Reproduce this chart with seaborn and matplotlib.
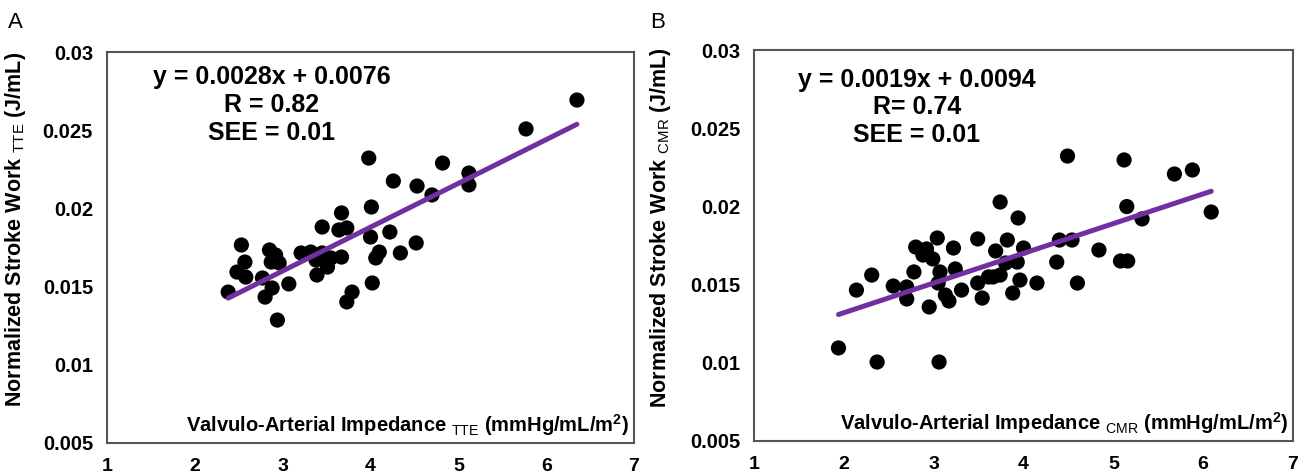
import matplotlib
matplotlib.use("Agg")
import matplotlib.pyplot as plt
import seaborn as sns
import numpy as np
import pandas as pd

# panel A (TTE)
tte_x = [6.35, 5.77, 3.98, 4.82, 5.12, 5.12, 4.26, 4.53, 4.70, 4.01,
         3.67, 3.45, 3.64, 3.73, 4.22, 4.00, 4.52, 4.10, 4.34, 4.06,
         4.02, 3.79, 3.73, 3.67, 3.55, 3.51, 3.39, 3.38, 3.32, 3.21,
         3.45, 3.07, 2.96, 2.85, 2.92, 2.87, 2.77, 2.88, 2.80, 2.94,
         2.53, 2.57, 2.48, 2.58, 2.38]
tte_y = [0.02693, 0.02508, 0.02322, 0.02290, 0.02226, 0.02150, 0.02175, 0.02143, 0.02086, 0.02009,
         0.01971, 0.01881, 0.01862, 0.01875, 0.01849, 0.01817, 0.01779, 0.01721, 0.01715, 0.01683,
         0.01523, 0.01465, 0.01402, 0.01689, 0.01683, 0.01625, 0.01574, 0.01670, 0.01721, 0.01715,
         0.01715, 0.01517, 0.01651, 0.01734, 0.01702, 0.01657, 0.01555, 0.01491, 0.01433, 0.01286,
         0.01766, 0.01657, 0.01593, 0.01561, 0.01465]
tte_fit = (0.0028, 0.0076)
tte_stats = "y = 0.0028x + 0.0076\nR = 0.82\nSEE = 0.01"

# panel B (CMR)
cmr_x = [1.94, 2.37, 3.06, 2.14, 2.31, 2.55, 2.70, 2.70, 2.78, 2.80,
         2.92, 2.88, 2.99, 3.04, 3.07, 3.05, 2.95, 3.13, 3.17, 3.22,
         3.24, 3.31, 3.49, 3.49, 3.54, 3.61, 3.66, 3.69, 3.74, 3.74,
         3.82, 3.80, 3.88, 3.94, 3.96, 3.93, 4.00, 4.15, 4.37, 4.40,
         4.49, 4.54, 4.60, 4.84, 5.08, 5.16, 5.12, 5.15, 5.32, 5.68,
         5.88, 6.09]
cmr_y = [0.01095, 0.01005, 0.01005, 0.01465, 0.01561, 0.01491, 0.01485, 0.01408, 0.01581, 0.01740,
         0.01728, 0.01689, 0.01664, 0.01798, 0.01581, 0.01510, 0.01357, 0.01433, 0.01395, 0.01734,
         0.01600, 0.01465, 0.01792, 0.01510, 0.01414, 0.01549, 0.01549, 0.01715, 0.02028, 0.01561,
         0.01785, 0.01638, 0.01446, 0.01926, 0.01529, 0.01644, 0.01734, 0.01510, 0.01644, 0.01785,
         0.02322, 0.01785, 0.01510, 0.01721, 0.01651, 0.01651, 0.02297, 0.01999, 0.01920, 0.02207,
         0.02233, 0.01964]
cmr_fit = (0.0019, 0.0094)
cmr_stats = "y = 0.0019x + 0.0094\nR= 0.74\nSEE = 0.01"

x_ticks = [1, 2, 3, 4, 5, 6, 7]
y_ticks = [0.005, 0.01, 0.015, 0.02, 0.025, 0.03]
y_tick_labels = ["0.005", "0.01", "0.015", "0.02", "0.025", "0.03"]

sns.set_style("white")
plt.rcParams['font.family'] = ['Liberation Sans', 'DejaVu Sans']
plt.rcParams['mathtext.fontset'] = 'custom'
plt.rcParams['mathtext.rm'] = 'Liberation Sans'
plt.rcParams['mathtext.bf'] = 'Liberation Sans:bold'
plt.rcParams['text.color'] = 'black'
plt.rcParams['axes.labelcolor'] = 'black'
plt.rcParams['xtick.color'] = 'black'
plt.rcParams['ytick.color'] = 'black'

fig = plt.figure(figsize=(13.03, 4.75), dpi=100)
ax_a = fig.add_axes([0.0821, 0.0674, 0.4045, 0.8231])
ax_b = fig.add_axes([0.5787, 0.0716, 0.4136, 0.8231])

panels = [
    (ax_a, tte_x, tte_y, tte_fit, tte_stats, "TTE", "A", 0.0062, 0.313, 0.967),
    (ax_b, cmr_x, cmr_y, cmr_fit, cmr_stats, "CMR", "B", 0.4988, 0.302, 0.955),
]

for ax, xs, ys, fit, stats, sub, letter, lx, tx, ty in panels:
    df = pd.DataFrame({'x': xs, 'y': ys})
    sns.scatterplot(data=df, x='x', y='y', ax=ax, color='black', s=120,
                    edgecolor='none', zorder=3)
    line_x = np.array([min(xs), max(xs)])
    line_df = pd.DataFrame({'x': line_x, 'y': fit[0] * line_x + fit[1]})
    sns.lineplot(data=line_df, x='x', y='y', ax=ax, color='#7030a0',
                 linewidth=3.6, zorder=4)

    ax.set_xlim(1, 7)
    ax.set_ylim(0.005, 0.03)
    ax.set_xticks(x_ticks)
    ax.set_xticklabels([str(t) for t in x_ticks])
    ax.set_yticks(y_ticks)
    ax.set_yticklabels(y_tick_labels)
    ax.tick_params(axis='x', length=0, pad=11, labelsize=14)
    ax.tick_params(axis='y', length=0, pad=10, labelsize=14.5)
    for lab in ax.get_xticklabels() + ax.get_yticklabels():
        lab.set_fontweight('bold')
    for sp in ax.spines.values():
        sp.set_visible(True)
        sp.set_color('#555555')
        sp.set_linewidth(1.5)

    ax.set_xlabel('')
    ax.set_ylabel("Normalized Stroke Work $_{\\mathrm{%s}}$ (J/mL)" % sub,
                  fontsize=15.5, fontweight='bold')
    ax.yaxis.set_label_coords(-0.150, 0.545)
    ax.text(0.991, 0.045,
            "Valvulo-Arterial Impedance $_{\\mathrm{%s}}$ (mmHg/mL/m$^{\\mathbf{2}}$)" % sub,
            transform=ax.transAxes, ha='right', va='center', fontsize=14.5,
            fontweight='bold')
    ax.text(tx, ty, stats, transform=ax.transAxes, ha='center', va='top',
            multialignment='center', fontsize=18, fontweight='bold',
            linespacing=1.2)
    fig.text(lx, 0.975, letter, ha='left', va='top', fontsize=16)

fig.savefig('out.png', dpi=100)
